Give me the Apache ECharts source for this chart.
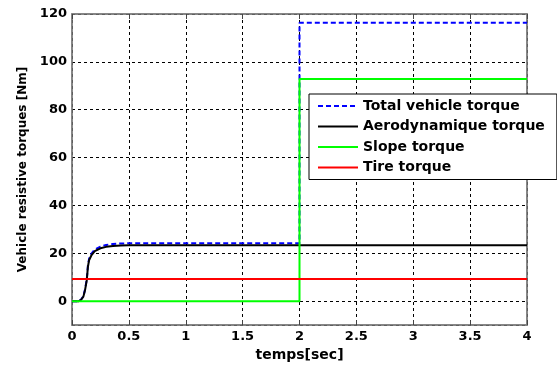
<!DOCTYPE html>
<html>
<head>
<meta charset="utf-8">
<script src="https://cdn.jsdelivr.net/npm/echarts@6/dist/echarts.min.js"></script>
<style>
html,body{margin:0;padding:0;background:#fff;}
#c{width:557px;height:367px;}
</style>
</head>
<body>
<div id="c"></div>
<script>
// ---- data ----
const seriesNames = ['Total vehicle torque', 'Aerodynamique torque', 'Slope torque', 'Tire torque'];
const timeAero = [0, 0.06, 0.08, 0.10, 0.115, 0.13, 0.14, 0.15, 0.17, 0.20, 0.25, 0.30, 0.36, 0.43, 0.50, 0.60, 1.0, 1.5, 2.0, 4.0];
const aeroTorque = [0, 0, 0.6, 1.9, 4.7, 8.8, 14.4, 17.1, 19.1, 20.9, 22.1, 22.7, 23.1, 23.3, 23.4, 23.4, 23.4, 23.4, 23.4, 23.4];
const timeTotal = [0, 0.06, 0.08, 0.10, 0.115, 0.13, 0.14, 0.15, 0.17, 0.20, 0.25, 0.30, 0.36, 0.43, 0.50, 0.60, 1.0, 1.5, 2.0, 2.0, 4.0];
const totalTorque = [0, 0, 0.7, 2.1, 5.0, 9.2, 14.9, 17.7, 19.8, 21.6, 22.8, 23.5, 23.9, 24.1, 24.2, 24.2, 24.2, 24.2, 24.2, 116.3, 116.3];
const timeSlope = [0, 2.0, 2.0, 4.0];
const slopeTorque = [0, 0, 92.8, 92.8];
const timeTire = [0, 4.0];
const tireTorque = [9.25, 9.25];
const yTicks = [0, 20, 40, 60, 80, 100, 120];
const xLabel = 'temps[sec]';
const yLabel = 'Vehicle resistive torques [Nm]';

const zip = (xs, ys) => xs.map((x, i) => [x, ys[i]]);

const FONT = 'DejaVu Sans';
const frameColor = '#7f7f7f';

const chart = echarts.init(document.getElementById('c'), null, {renderer: 'canvas'});
chart.setOption({
  animation: false,
  backgroundColor: '#ffffff',
  grid: {left: 72, top: 14, right: 30, bottom: 40, show: true, borderColor: frameColor, borderWidth: 1.5, backgroundColor: '#fff'},
  legend: {
    data: seriesNames,
    orient: 'vertical',
    left: 309, top: 94,
    itemWidth: 40, itemHeight: 14, itemGap: 6.5,
    padding: [5, 12, 5, 8],
    backgroundColor: '#ffffff',
    borderColor: '#000000', borderWidth: 1,
    itemStyle: {opacity: 0},
    textStyle: {fontFamily: FONT, fontWeight: 'bold', fontSize: 14, color: '#000'},
    z: 10
  },
  xAxis: [{
    type: 'value', min: 0, max: 4, interval: 0.5, position: 'bottom',
    name: xLabel, nameLocation: 'middle', nameGap: 22,
    nameTextStyle: {fontFamily: FONT, fontWeight: 'bold', fontSize: 14, color: '#000'},
    axisLine: {show: true, onZero: false, lineStyle: {color: frameColor, width: 1.5}},
    axisTick: {show: true, inside: true, length: 5, lineStyle: {color: '#444'}},
    axisLabel: {fontFamily: FONT, fontWeight: 'bold', fontSize: 13, color: '#000', margin: 5},
    splitLine: {show: true, lineStyle: {color: '#000', type: [3, 3], width: 1}}
  }, {
    type: 'value', min: 0, max: 4, interval: 0.5, position: 'top',
    axisLine: {show: true, onZero: false, lineStyle: {color: frameColor, width: 1.5}},
    axisTick: {show: true, inside: true, length: 5, lineStyle: {color: '#444'}},
    axisLabel: {show: false}, splitLine: {show: false}
  }],
  yAxis: [{
    type: 'value', min: -10, max: 120, splitNumber: 6,
    name: yLabel, nameLocation: 'middle', nameGap: 43, nameRotate: 90,
    nameTextStyle: {fontFamily: FONT, fontWeight: 'bold', fontSize: 12, color: '#000'},
    axisLine: {show: true, onZero: false, lineStyle: {color: frameColor, width: 1.5}},
    axisTick: {show: false},
    axisLabel: {fontFamily: FONT, fontWeight: 'bold', fontSize: 13, color: '#000', margin: 5,
      formatter: v => (yTicks.indexOf(v) >= 0 ? String(v) : '')},
    splitLine: {show: true, lineStyle: {color: '#000', type: [3, 3], width: 1}}
  }, {
    type: 'value', min: -10, max: 120, splitNumber: 6, position: 'right',
    axisLine: {show: true, onZero: false, lineStyle: {color: frameColor, width: 1.5}},
    axisTick: {show: false}, axisLabel: {show: false}, splitLine: {show: false}
  }],
  series: [
    {name: seriesNames[0], type: 'line', data: zip(timeTotal, totalTorque), symbol: 'none', z: 2,
     lineStyle: {color: '#0000ff', width: 2, type: [5, 3]}, itemStyle: {color: '#0000ff'}},
    {name: seriesNames[1], type: 'line', data: zip(timeAero, aeroTorque), symbol: 'none', z: 3,
     lineStyle: {color: '#000000', width: 2}, itemStyle: {color: '#000000'}},
    {name: seriesNames[2], type: 'line', data: zip(timeSlope, slopeTorque), symbol: 'none', z: 4,
     lineStyle: {color: '#00ff00', width: 2}, itemStyle: {color: '#00ff00'}},
    {name: seriesNames[3], type: 'line', data: zip(timeTire, tireTorque), symbol: 'none', z: 5,
     lineStyle: {color: '#ff0000', width: 2}, itemStyle: {color: '#ff0000'}}
  ]
});
</script>
</body>
</html>
